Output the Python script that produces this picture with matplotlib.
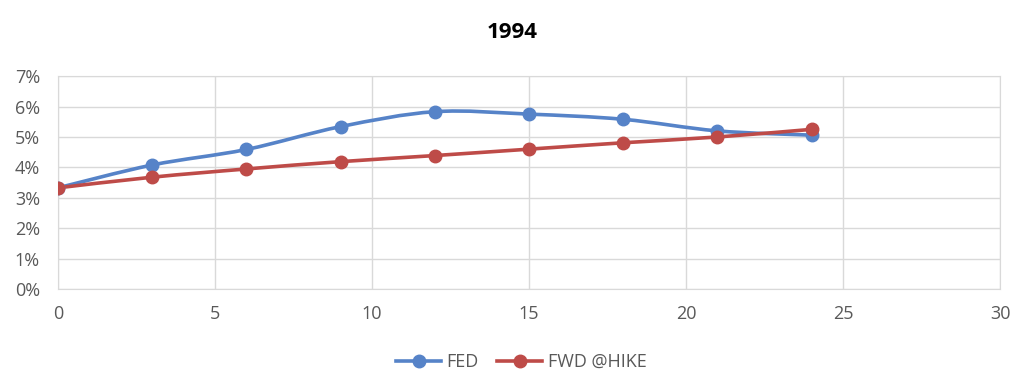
import numpy as np
import matplotlib.pyplot as plt
from matplotlib.path import Path
from matplotlib.patches import PathPatch
from matplotlib.ticker import FuncFormatter

plt.rcParams['font.family'] = ['Open Sans', 'DejaVu Sans']

# data
months = [0, 3, 6, 9, 12, 15, 18, 21, 24]
fed = [3.33, 4.08, 4.59, 5.34, 5.83, 5.75, 5.58, 5.20, 5.06]        # [%]
fwd_hike = [3.33, 3.68, 3.95, 4.19, 4.39, 4.60, 4.81, 5.00, 5.25]   # [%]

blue = '#5683C8'
red = '#BE4B48'
grey_txt = '#595959'
grid_c = '#D9D9D9'


def smooth_path(x, y):
    # excel-like smoothed line: cubic bezier segments through the points
    pts = np.column_stack([x, y]).astype(float)
    ext = np.vstack([pts[0], pts, pts[-1]])
    verts = [pts[0]]
    codes = [Path.MOVETO]
    for i in range(len(pts) - 1):
        p0, p1, p2, p3 = ext[i], ext[i + 1], ext[i + 2], ext[i + 3]
        c1 = p1 + (p2 - p0) / 6.
        c2 = p2 - (p3 - p1) / 6.
        verts += [c1, c2, p2]
        codes += [Path.CURVE4] * 3
    return Path(verts, codes)


fig = plt.figure(figsize=(10.24, 3.88), dpi=100)
ax = fig.add_axes([0.0566, 0.2544, 0.92, 0.5496])

for ys, col in [(fed, blue), (fwd_hike, red)]:
    ax.add_patch(PathPatch(smooth_path(months, ys), fill=False, edgecolor=col,
                           lw=2.6, capstyle='round', joinstyle='round', zorder=3))
    ax.plot(months, ys, ls='none', marker='o', ms=9, color=col, zorder=4)

h1, = ax.plot([], [], '-o', color=blue, lw=2.6, ms=9)
h2, = ax.plot([], [], '-o', color=red, lw=2.6, ms=9)

ax.set_xlim(0, 30)
ax.set_ylim(0, 7)
ax.set_xticks(range(0, 31, 5))
ax.set_yticks(range(0, 8))
ax.yaxis.set_major_formatter(FuncFormatter(lambda v, _: '%d%%' % v))
ax.grid(True, color=grid_c, lw=1)
ax.set_axisbelow(True)
for s in ax.spines.values():
    s.set_color(grid_c)
ax.tick_params(length=0, labelsize=13, colors=grey_txt)
ax.tick_params(axis='y', pad=13)
ax.tick_params(axis='x', pad=11)

fig.text(0.5, 0.9175, '1994', ha='center', va='center', fontsize=16, fontweight='bold')
fig.legend([h1, h2], ['FED', 'FWD @HIKE'], loc='center', bbox_to_anchor=(0.509, 0.067),
           ncol=2, frameon=False, fontsize=13, labelcolor=grey_txt,
           handlelength=2.5, handletextpad=0.3, columnspacing=1.0)

fig.savefig('out.png', dpi=100)
